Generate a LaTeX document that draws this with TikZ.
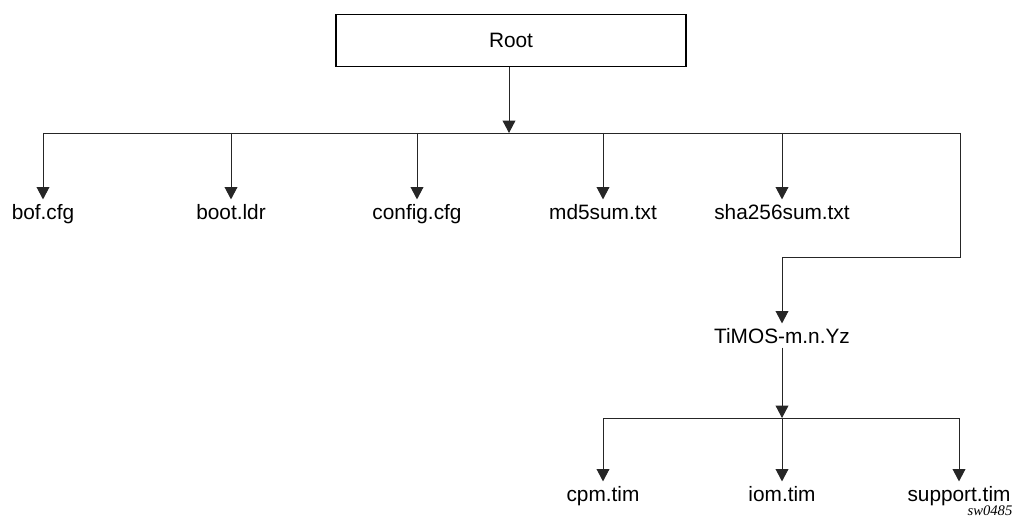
\documentclass[tikz,border=0pt]{standalone}
\usepackage{fontspec}
\setmainfont{Liberation Sans}
\newfontfamily\figidfont{Liberation Serif}
\usetikzlibrary{arrows.meta}
\begin{document}
\begin{tikzpicture}
    [
    x=0.025cm,y=-0.025cm,
    file/.style={inner xsep=1pt,inner ysep=3pt,anchor=base,font=\fontsize{14.8}{17}\selectfont},
    rootbox/.style={draw,line width=1.3pt,minimum width=8.75cm,minimum height=1.3cm,font=\fontsize{14.8}{17}\selectfont},
    link/.style={line width=0.7pt,draw=black!85},
    tip/.style={link,-{Triangle[length=3.1mm,width=3.2mm]}}
    ]
    \useasboundingbox (0,0) rectangle (1016,525);
    \node (root) at (511,40.5) [rootbox] {Root};
    % first level
    \coordinate (bus) at (509,133);
    \coordinate (busl) at (43,133);
    \coordinate (busr) at (960,133);
    \coordinate (bend1) at (960,257);
    \coordinate (bend2) at (782,257);
    \node (bof) at (43,219) [file] {bof.cfg};
    \node (boot) at (231,219) [file] {boot.ldr};
    \node (config) at (417,219) [file] {config.cfg};
    \node (md5) at (603,219) [file] {md5sum.txt};
    \node (sha) at (782,219) [file] {sha256sum.txt};
    \node (timos) at (782,343) [file] {TiMOS-m.n.Yz};
    \draw [tip] (root.south -| bus) to (bus);
    \draw [link] (busl) to (busr);
    \draw [tip] (busl) to (bof);
    \draw [tip] (boot |- bus) to (boot);
    \draw [tip] (config |- bus) to (config);
    \draw [tip] (md5 |- bus) to (md5);
    \draw [tip] (sha |- bus) to (sha);
    \draw [tip] (busr) -- (bend1) -- (bend2) -- (timos);
    % second level
    \coordinate (sub) at (782,418);
    \coordinate (subl) at (603,418);
    \coordinate (subr) at (959,418);
    \node (cpm) at (603,501) [file] {cpm.tim};
    \node (iom) at (782,501) [file] {iom.tim};
    \node (support) at (959,501) [file] {support.tim};
    \draw [tip] (timos) to (sub);
    \draw [link] (subl) to (subr);
    \draw [tip] (subl) to (cpm);
    \draw [tip] (sub) to (iom);
    \draw [tip] (subr) to (support);
    \node (figid) at (990,515) [anchor=base,inner sep=0pt,font=\figidfont\itshape\fontsize{10.4}{12}\selectfont] {sw0485};
\end{tikzpicture}
\end{document}
